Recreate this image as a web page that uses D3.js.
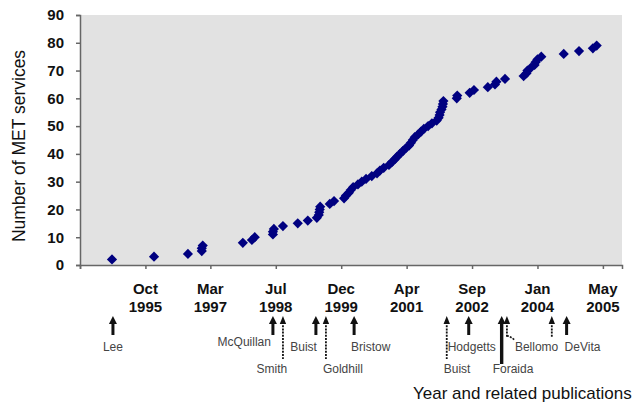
<!DOCTYPE html>
<html>
<head>
<meta charset="utf-8">
<script src="https://cdnjs.cloudflare.com/ajax/libs/d3/7.8.5/d3.min.js"></script>
<style>
    body { margin: 0; background: #fff; }
    svg { display: block; font-family: Arial, "Liberation Sans", sans-serif; }
</style>
</head>
<body>
<svg id="chart" width="637" height="404"></svg>
<script>
// Cumulative number of MET services, by start date (decimal years)
var serviceDates = [
    1995.13, 1996.01, 1996.72, 1997.01, 1997.01, 1997.03, 1997.87, 1998.06, 1998.12,
    1998.50, 1998.50, 1998.52, 1998.71, 1999.02, 1999.23, 1999.42, 1999.46, 1999.47,
    1999.48, 1999.49, 1999.69, 1999.78, 1999.99, 2000.03, 2000.09, 2000.13, 2000.18,
    2000.28, 2000.36, 2000.45, 2000.57, 2000.68, 2000.74, 2000.82, 2000.93, 2000.99,
    2001.05, 2001.10, 2001.16, 2001.22, 2001.28, 2001.35, 2001.39, 2001.43, 2001.47,
    2001.54, 2001.60, 2001.66, 2001.75, 2001.83, 2001.93, 2001.97, 2001.99, 2002.00,
    2002.03, 2002.05, 2002.06, 2002.07, 2002.35, 2002.36, 2002.62, 2002.71, 2003.00,
    2003.15, 2003.18, 2003.36, 2003.75, 2003.81, 2003.83, 2003.90, 2003.98, 2004.00,
    2004.04, 2004.12, 2004.59, 2004.91, 2005.20, 2005.28
];
var serviceCounts = [
    2, 3, 4, 5, 6, 7, 8, 9, 10,
    11, 12, 13, 14, 15, 16, 17, 18, 19,
    20, 21, 22, 23, 24, 25, 26, 27, 28,
    29, 30, 31, 32, 33, 34, 35, 36, 37,
    38, 39, 40, 41, 42, 43, 44, 45, 46,
    47, 48, 49, 50, 51, 52, 53, 54, 55,
    56, 57, 58, 59, 60, 61, 62, 63, 64,
    65, 66, 67, 68, 69, 70, 71, 72, 73,
    74, 75, 76, 77, 78, 79
];

// Axis ticks (500-day steps on the date axis)
var xDomain = [1994.46, 2005.81];
var xTickDates = [1994.46, 1995.83, 1997.19, 1998.56, 1999.93, 2001.30, 2002.67, 2004.04, 2005.41];
var xTickMonths = ["", "Oct", "Mar", "Jul", "Dec", "Apr", "Sep", "Jan", "May"];
var xTickYears = ["", "1995", "1997", "1998", "1999", "2001", "2002", "2004", "2005"];
var yTicks = [0, 10, 20, 30, 40, 50, 60, 70, 80, 90];

// Related publications
var pubNames = ["Lee", "McQuillan", "Smith", "Buist", "Goldhill", "Bristow",
    "Buist", "Hodgetts", "Foraida", "Bellomo", "", "DeVita"];
var pubDates = [1995.15, 1998.50, 1998.71, 1999.40, 1999.61, 2000.20,
    2002.14, 2002.60, 2003.29, 2003.40, 2004.34, 2004.65];

// How each publication arrow is drawn (layout only)
var arrowStyle = {
    short: {bottom: 335, width: 3, dash: null, head: 4},
    long: {bottom: 359, width: 1.8, dash: "2,1.2", head: 3.2},
    major: {bottom: 364, width: 3.4, dash: null, head: 4},
    dotted: {bottom: 337, width: 1.8, dash: "2,1.2", head: 3.2}
};
var pubLayout = [
    {kind: "short", dx: 0, y: 351, anchor: "middle"},
    {kind: "short", dx: -2, y: 346, anchor: "end"},
    {kind: "long", dx: -11, y: 373, anchor: "middle"},
    {kind: "short", dx: 1, y: 351, anchor: "end"},
    {kind: "long", dx: -3, y: 373, anchor: "start"},
    {kind: "short", dx: -3, y: 351, anchor: "start"},
    {kind: "long", dx: -3, y: 373, anchor: "start"},
    {kind: "short", dx: -21, y: 351, anchor: "start"},
    {kind: "major", dx: -9, y: 373, anchor: "start"},
    {kind: "dotted", dx: 8, y: 351, anchor: "start", bend: true},
    {kind: "dotted", dx: 0, y: 351, anchor: "start"},
    {kind: "short", dx: -2, y: 351, anchor: "start"}
];

var svg = d3.select("#chart"),
    margin = {top: 15, left: 80, bottom: 139, right: 15},
    width = +svg.attr("width"),
    height = +svg.attr("height");

var x = d3.scaleLinear()
    .domain(xDomain)
    .range([margin.left, width - margin.right]);

var y = d3.scaleLinear()
    .domain([0, 90])
    .range([height - margin.bottom, margin.top]);

// Plot background
svg.append("rect")
    .attr("x", margin.left)
    .attr("y", margin.top)
    .attr("width", width - margin.right - margin.left)
    .attr("height", height - margin.bottom - margin.top)
    .attr("fill", "#e2e2e2");

// Y axis
var yAxis = svg.append("g")
    .attr("transform", `translate(${margin.left},0)`)
    .call(d3.axisLeft(y).tickValues(yTicks).tickSize(4).tickPadding(12));

yAxis.selectAll("text")
    .attr("font-size", 15)
    .attr("font-weight", "bold")
    .attr("font-family", "Arial, 'Liberation Sans', sans-serif")
    .attr("fill", "#111");

// X axis, labels on two lines
var xAxis = svg.append("g")
    .attr("transform", `translate(0,${height - margin.bottom})`)
    .call(d3.axisBottom(x).tickValues(xTickDates).tickSize(4).tickFormat(""));

svg.selectAll(".month")
    .data(xTickDates)
    .enter().append("text")
    .attr("class", "month")
    .attr("x", d => x(d))
    .attr("y", 294)
    .attr("text-anchor", "middle")
    .attr("font-size", 15)
    .attr("font-weight", "bold")
    .attr("fill", "#111")
    .text((d, i) => xTickMonths[i]);

svg.selectAll(".year")
    .data(xTickDates)
    .enter().append("text")
    .attr("class", "year")
    .attr("x", d => x(d))
    .attr("y", 312)
    .attr("text-anchor", "middle")
    .attr("font-size", 15)
    .attr("font-weight", "bold")
    .attr("fill", "#111")
    .text((d, i) => xTickYears[i]);

svg.selectAll(".domain, .tick line")
    .attr("stroke", "#666")
    .attr("stroke-width", 1.5);

// Y axis title
svg.append("text")
    .attr("transform", `translate(25,${(margin.top + height - margin.bottom) / 2 + 6}) rotate(-90)`)
    .attr("text-anchor", "middle")
    .attr("font-size", 17.5)
    .attr("fill", "#111")
    .text("Number of MET services");

// Diamond markers
var diamond = d3.symbol().type(d3.symbolSquare).size(52);

svg.append("g")
    .selectAll("path")
    .data(serviceDates.map((d, i) => ({date: d, count: serviceCounts[i]})))
    .enter().append("path")
    .attr("d", diamond)
    .attr("transform", d => `translate(${x(d.date)},${y(d.count)}) rotate(45)`)
    .attr("fill", "#000080");

// Publication arrows
var pubs = svg.append("g")
    .selectAll("g")
    .data(pubDates)
    .enter().append("g");

pubs.append("line")
    .attr("x1", d => x(d))
    .attr("x2", d => x(d))
    .attr("y1", 322)
    .attr("y2", (d, i) => arrowStyle[pubLayout[i].kind].bottom)
    .attr("stroke", "#111")
    .attr("stroke-width", (d, i) => arrowStyle[pubLayout[i].kind].width)
    .attr("stroke-dasharray", (d, i) => arrowStyle[pubLayout[i].kind].dash);

pubs.append("path")
    .attr("d", (d, i) => {
        var h = arrowStyle[pubLayout[i].kind].head, cx = x(d);
        return `M${cx},316 L${cx + h},324 L${cx - h},324 Z`;
    })
    .attr("fill", "#111");

pubs.filter((d, i) => pubLayout[i].bend)
    .append("polyline")
    .attr("points", d => `${x(d)},336 ${x(d) + 2},336 ${x(d) + 8},340`)
    .attr("fill", "none")
    .attr("stroke", "#111")
    .attr("stroke-width", 1.6)
    .attr("stroke-dasharray", "2,1.2");

pubs.append("text")
    .attr("x", (d, i) => x(d) + pubLayout[i].dx)
    .attr("y", (d, i) => pubLayout[i].y)
    .attr("text-anchor", (d, i) => pubLayout[i].anchor)
    .attr("font-size", 12)
    .attr("fill", "#444")
    .text((d, i) => pubNames[i]);

// X axis title
svg.append("text")
    .attr("x", 413)
    .attr("y", 399)
    .attr("font-size", 17)
    .attr("fill", "#111")
    .text("Year and related publications");
</script>
</body>
</html>
